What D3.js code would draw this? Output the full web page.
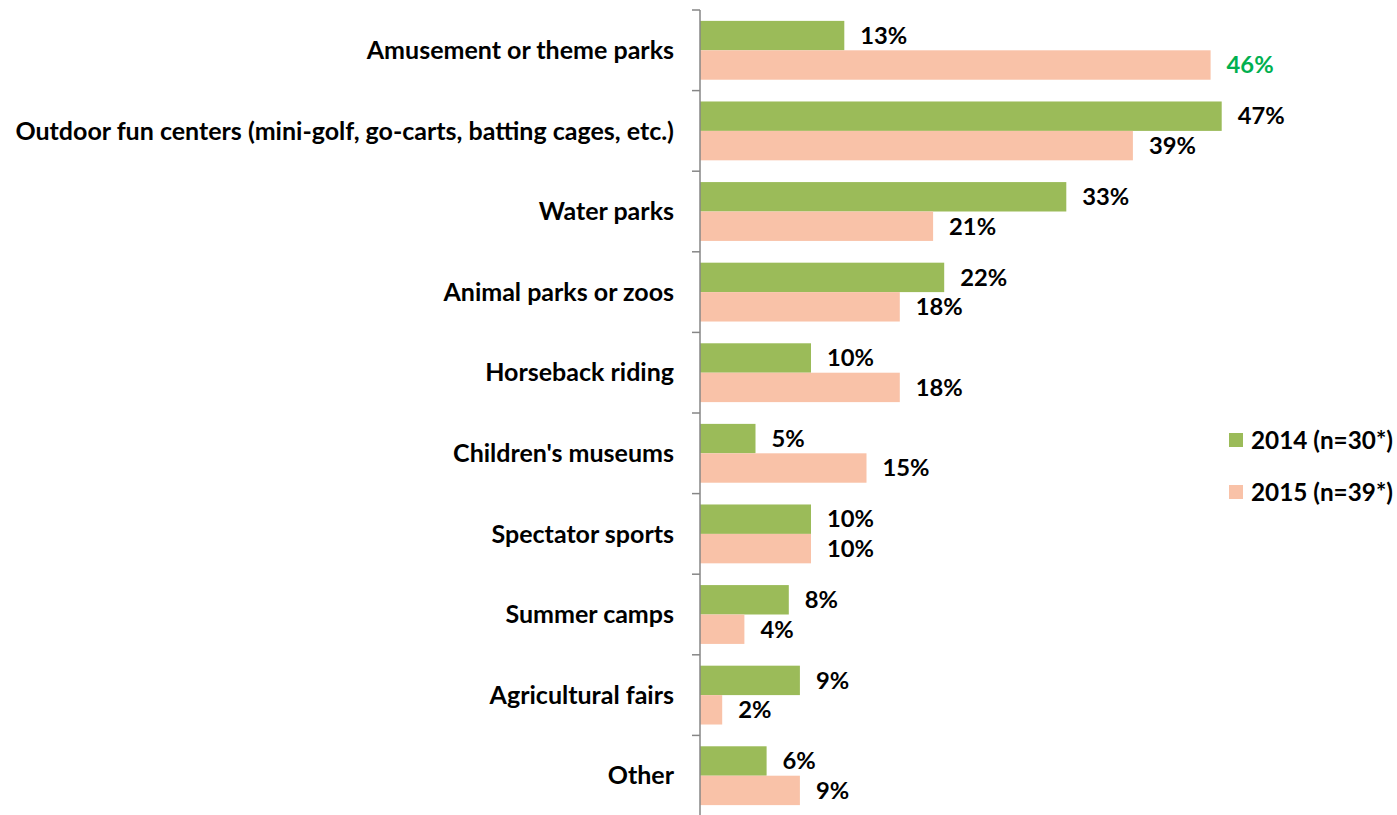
<!DOCTYPE html>
<html>
<head>
<meta charset="utf-8">
<script src="https://cdn.jsdelivr.net/npm/d3@7"></script>
<style>
  html, body { margin: 0; padding: 0; background: #fff; }
  svg { display: block; font-family: Lato, "Open Sans", sans-serif; font-weight: bold; }
</style>
</head>
<body>
<svg id="chart" width="1397" height="815"></svg>
<script>
// Activities, with share of respondents (%) per survey year
const categories = [
  "Amusement or theme parks",
  "Outdoor fun centers (mini-golf, go-carts, batting cages, etc.)",
  "Water parks",
  "Animal parks or zoos",
  "Horseback riding",
  "Children's museums",
  "Spectator sports",
  "Summer camps",
  "Agricultural fairs",
  "Other"
];
const values2014 = [13, 47, 33, 22, 10, 5, 10, 8, 9, 6];
const values2015 = [46, 39, 21, 18, 18, 15, 10, 4, 2, 9];
const seriesNames = ["2014 (n=30*)", "2015 (n=39*)"];
const highlightLabel = { series: 1, index: 0 }; // value label shown in green

const colors = ["#9BBB59", "#F9C2A8"];
const svg = d3.select("#chart");

const axisX = 700;
const y = d3.scaleBand().domain(categories).range([10, 816]).paddingInner(0.27).paddingOuter(0.135);
const ySeries = d3.scaleBand().domain([0, 1]).range([0, y.bandwidth()]);
const x = d3.scaleLinear().domain([0, 50]).range([axisX, axisX + 555]);

const series = [values2014, values2015];

// fit a font size so that a sample string spans a target width
function fitSize(sample, target, base) {
  const t = svg.append("text").attr("font-size", base).text(sample);
  const w = t.node().getComputedTextLength();
  t.remove();
  return base * target / w;
}

const valueSize = fitSize("13%", 47, 20);
const legendSize = fitSize(seriesNames[0], 142, 20);
const catSize = fitSize(categories[1], 659, 21);

// bars
series.forEach((vals, s) => {
  svg.append("g").selectAll("rect")
    .data(vals)
    .join("rect")
    .attr("x", x(0))
    .attr("y", (d, i) => y(categories[i]) + ySeries(s))
    .attr("width", d => x(d) - x(0))
    .attr("height", ySeries.bandwidth())
    .attr("fill", colors[s]);
});

// value labels
series.forEach((vals, s) => {
  svg.append("g").selectAll("text")
    .data(vals)
    .join("text")
    .attr("x", d => x(d) + 16)
    .attr("y", (d, i) => y(categories[i]) + ySeries(s) + ySeries.bandwidth() / 2)
    .attr("dy", "0.35em")
    .attr("font-size", valueSize)
    .attr("fill", (d, i) => (s === highlightLabel.series && i === highlightLabel.index) ? "#00B050" : "#000")
    .text(d => d + "%");
});

// category axis with ticks between groups
const tickYs = d3.range(categories.length + 1).map(i => 10 + i * (806 / categories.length));
const axisG = svg.append("g");
axisG.append("line")
  .attr("x1", axisX).attr("x2", axisX)
  .attr("y1", 10).attr("y2", 815)
  .attr("stroke", "#868686").attr("stroke-width", 1.5);
axisG.selectAll("line.tick")
  .data(tickYs)
  .join("line")
  .attr("class", "tick")
  .attr("x1", axisX - 8).attr("x2", axisX)
  .attr("y1", d => d).attr("y2", d => d)
  .attr("stroke", "#868686").attr("stroke-width", 1.5);

axisG.selectAll("text.cat")
  .data(categories)
  .join("text")
  .attr("class", "cat")
  .attr("x", axisX - 26)
  .attr("y", d => y(d) + y.bandwidth() / 2)
  .attr("dy", "0.35em")
  .attr("text-anchor", "end")
  .attr("font-size", catSize)
  .attr("fill", "#000")
  .text(d => d);

// legend
const legend = svg.append("g");
seriesNames.forEach((name, s) => {
  const ly = 440 + s * 52;
  legend.append("rect")
    .attr("x", 1229).attr("y", ly - 7)
    .attr("width", 14).attr("height", 14)
    .attr("fill", colors[s]);
  legend.append("text")
    .attr("x", 1251).attr("y", ly)
    .attr("dy", "0.35em")
    .attr("font-size", legendSize)
    .attr("fill", "#000")
    .text(name);
});
</script>
</body>
</html>
